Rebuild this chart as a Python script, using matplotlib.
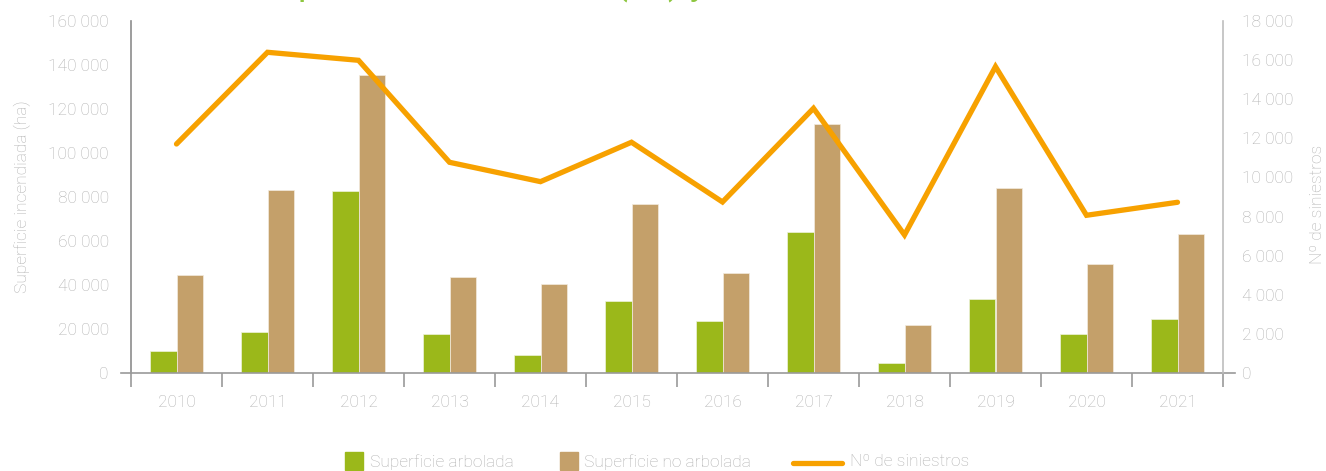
import numpy as np
import matplotlib
matplotlib.use("Agg")
import matplotlib.pyplot as plt
from matplotlib.lines import Line2D
from matplotlib.patches import Rectangle
from matplotlib.ticker import FuncFormatter, MultipleLocator

# data
years = ["2010", "2011", "2012", "2013", "2014", "2015",
         "2016", "2017", "2018", "2019", "2020", "2021"]
sup_arbolada = [10100, 18600, 82700, 17600, 8200, 32700,
                23600, 64100, 4700, 33600, 17600, 24400]
sup_no_arbolada = [44400, 83000, 135400, 43800, 40300, 76800,
                   45300, 113000, 21700, 84200, 49500, 63200]
n_siniestros = [11710, 16400, 15990, 10775, 9785, 11800,
                8745, 13535, 7060, 15665, 8065, 8730]

GREEN = "#9bb81a"
TAN = "#c4a06a"
ORANGE = "#f7a100"
TXT = "#b0b0b0"
AXC = "#9a9a9a"
W, H = 1326, 471

plt.rcParams["font.family"] = ["Roboto", "DejaVu Sans"]
plt.rcParams["font.weight"] = "light"

fig = plt.figure(figsize=(W / 100, H / 100), dpi=100)
ax = fig.add_axes([131 / W, 98 / H, 1092 / W, 352 / H])
ax2 = ax.twinx()

x = np.arange(len(years))
bw = 0.286
ax.bar(x - bw / 2, sup_arbolada, bw, color=GREEN, edgecolor="#eef3dc", linewidth=0.5, zorder=2)
ax.bar(x + bw / 2, sup_no_arbolada, bw, color=TAN, edgecolor="#f3ebdf", linewidth=0.5, zorder=2)
ax2.plot(x, n_siniestros, color=ORANGE, lw=3.8, solid_joinstyle="miter", solid_capstyle="round", zorder=3)

ax.set_xlim(-0.5, len(years) - 0.5)
ax.set_ylim(0, 160000)
ax2.set_ylim(0, 18000)
ax.yaxis.set_major_locator(MultipleLocator(20000))
ax2.yaxis.set_major_locator(MultipleLocator(2000))
fmt = FuncFormatter(lambda v, p: f"{int(v):,}".replace(",", " "))
ax.yaxis.set_major_formatter(fmt)
ax2.yaxis.set_major_formatter(fmt)

ax.set_xticks(x)
ax.set_xticklabels(years)
ax.set_xticks(np.arange(-0.5, len(years), 1), minor=True)
ax.tick_params(axis="x", which="major", length=0, pad=15.5, labelsize=12.5, labelcolor=TXT)
ax.tick_params(axis="x", which="minor", length=10, width=1.2, color=AXC, direction="out")
ax.tick_params(axis="y", length=0, pad=16, labelsize=12.5, labelcolor=TXT)
ax2.tick_params(axis="y", length=0, pad=14, labelsize=12.5, labelcolor=TXT)

for s in ["top", "right", "bottom"]:
    ax.spines[s].set_visible(False)
for s in ["top", "left", "bottom"]:
    ax2.spines[s].set_visible(False)
ax.spines["left"].set_color("#8c8c8c")
ax.spines["left"].set_linewidth(1.2)
ax2.spines["right"].set_color("#bdbdbd")
ax2.spines["right"].set_linewidth(1.2)

# baseline running a little past both axes
ax.add_line(Line2D([-10 / 1092, 1 + 12 / 1092], [0, 0], transform=ax.transAxes,
                   color=AXC, lw=1.2, clip_on=False, zorder=4))

fig.text(22 / W, 1 - 197 / H, "Superficie incendiada (ha)", rotation=90,
         ha="center", va="center", fontsize=12.5, color=TXT)
fig.text(1317 / W, 1 - 204 / H, "Nº de siniestros", rotation=90,
         ha="center", va="center", fontsize=12.5, color=TXT)

# title, cut off at the top edge like the reference
title = "Evolución de la superficie incendiada (ha) y número de siniestros"
renderer = fig.canvas.get_renderer()
probe = fig.text(0, 0, "perficie incendiada (ha", fontsize=20, fontweight="normal")
w_probe = probe.get_window_extent(renderer).width
probe.set_text("Evolución de la su")
fs = 20 * 370 / w_probe
probe.set_fontsize(fs)
w_pre = probe.get_window_extent(renderer).width
probe.remove()
fig.text((298 - w_pre) / W, 1 + 6 / H, title, fontsize=fs, fontweight="normal",
         color="#8dc63f", ha="left", va="baseline")

# legend drawn by hand
def px(xp, yp):
    return xp / W, 1 - yp / H

fig.add_artist(Rectangle(px(345, 470), 18 / W, 18 / H, transform=fig.transFigure, color=GREEN))
fig.text(*px(370, 462), "Superficie arbolada", fontsize=12.5, color=TXT, va="center")
fig.add_artist(Rectangle(px(560, 470), 18 / W, 18 / H, transform=fig.transFigure, color=TAN))
fig.text(*px(584, 462), "Superficie no arbolada", fontsize=12.5, color=TXT, va="center")
fig.add_artist(Line2D([793 / W, 842 / W], [1 - 463 / H, 1 - 463 / H], transform=fig.transFigure,
                      color=ORANGE, lw=3.8, solid_capstyle="round"))
fig.text(*px(850, 462), "Nº de siniestros", fontsize=12.5, color=TXT, va="center")

fig.savefig("out.png", dpi=100, facecolor="white")
